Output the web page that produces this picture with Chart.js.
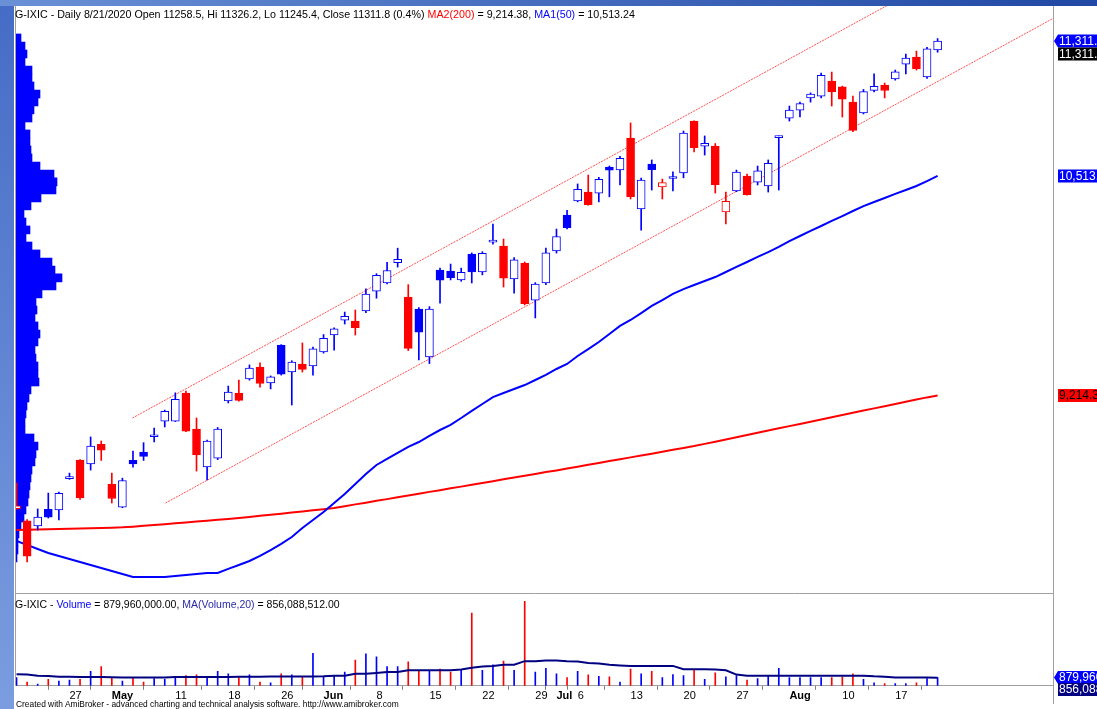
<!DOCTYPE html>
<html>
<head>
<meta charset="utf-8">
<title>G-IXIC Daily</title>
<script src="https://cdn.jsdelivr.net/npm/chart.js@4.4.1/dist/chart.umd.min.js"></script>
<style>
body { margin: 0; background: #fff; }
#wrap { position: relative; width: 1097px; height: 709px; overflow: hidden; background: #fff; font-family: "Liberation Sans", Arial, sans-serif; }
#leftbar { position: absolute; left: 0; top: 0; width: 14px; height: 709px; background: linear-gradient(#456cc6, #7b9de0); }
#topbar { position: absolute; left: 0; top: 0; width: 1097px; height: 6px; background: linear-gradient(90deg, #6a90d6, #2048a4); }
canvas { position: absolute; left: 0; }
#price { top: 0; width: 1097px; height: 592px; }
#vol { top: 592px; width: 1097px; height: 117px; }
.ttl { position: absolute; white-space: nowrap; color: #000; }
#foot { position: absolute; left: 16px; top: 699px; font-size: 8.4px; color: #000; white-space: nowrap; }
</style>
</head>
<body>
<div id="wrap">
  <div id="leftbar"></div>
  <div id="topbar"></div>
  <canvas id="price" width="1097" height="592"></canvas>
  <canvas id="vol" width="1097" height="117"></canvas>
  <div id="t1" class="ttl" style="left:15px;top:8px;font-size:10.7px"></div>
  <div id="t2" class="ttl" style="left:15px;top:598px;font-size:10.5px"></div>
  <div id="foot">Created with AmiBroker - advanced charting and technical analysis software. http://www.amibroker.com</div>
</div>
<script>
// trading days Apr 20 - Aug 21 2020
var days = ["Apr 20","Apr 21","Apr 22","Apr 23","Apr 24","Apr 27","Apr 28","Apr 29","Apr 30",
  "May 1","May 4","May 5","May 6","May 7","May 8","May 11","May 12","May 13","May 14","May 15",
  "May 18","May 19","May 20","May 21","May 22","May 26","May 27","May 28","May 29",
  "Jun 1","Jun 2","Jun 3","Jun 4","Jun 5","Jun 8","Jun 9","Jun 10","Jun 11","Jun 12","Jun 15",
  "Jun 16","Jun 17","Jun 18","Jun 19","Jun 22","Jun 23","Jun 24","Jun 25","Jun 26","Jun 29","Jun 30",
  "Jul 1","Jul 2","Jul 6","Jul 7","Jul 8","Jul 9","Jul 10","Jul 13","Jul 14","Jul 15","Jul 16",
  "Jul 17","Jul 20","Jul 21","Jul 22","Jul 23","Jul 24","Jul 27","Jul 28","Jul 29","Jul 30","Jul 31",
  "Aug 3","Aug 4","Aug 5","Aug 6","Aug 7","Aug 10","Aug 11","Aug 12","Aug 13","Aug 14",
  "Aug 17","Aug 18","Aug 19","Aug 20","Aug 21"];

var opens = [8545,8472,8442,8540,8537,8722,8832,8810,8925,8690,
  8554,8830,8880,8970,9063,9063,9229,9016,8791,8844,
  9182,9229,9312,9383,9288,9513,9353,9400,9389,9472,
  9572,9660,9655,9714,9832,9880,10000,9797,9726,9442,
  9957,9950,9898,10051,9945,10122,10099,9904,9998,9779,
  9880,10069,10282,10365,10418,10412,10566,10549,10738,10318,
  10584,10448,10498,10531,10838,10690,10690,10300,10424,10513,
  10477,10454,10740,10855,10903,10975,10986,11075,11040,10951,
  10886,11020,11051,11087,11175,11217,11099,11258.5];
var highs = [8696,8480,8543,8637,8643,8755,8835,8969,8945,8755,
  8725,8885,8935,9022,9128,9230,9240,9081,8950,9025,
  9270,9305,9395,9407,9330,9515,9420,9525,9500,9575,
  9615,9708,9720,9845,9935,10002,10086,9870,9735,9740,
  9968,9992,9968,10058,10065,10229,10140,10030,10004,9882,
  10087,10199,10310,10466,10519,10505,10572,10630,10827,10500,
  10608,10495,10537,10779,10840,10750,10705,10418,10548,10525,
  10572,10608,10750,10927,10950,11005,11122,11128,11045,10986,
  11025,11117,11063,11140,11235,11252,11275,11326.2];
var lows = [8540,8229,8418,8489,8478,8718,8600,8773,8830,8578,
  8550,8790,8830,8940,9028,9060,9000,8767,8714,8835,
  9170,9180,9305,9264,9253,9335,9158,9353,9335,9465,
  9483,9637,9572,9705,9790,9875,9974,9480,9424,9403,
  9761,9898,9890,9880,9928,10110,9856,9820,9750,9673,
  9870,10057,10200,10360,10340,10360,10390,10460,10377,10193,
  10430,10377,10424,10502,10655,10637,10412,10229,10420,10400,
  10460,10418,10430,10838,10862,10950,10975,10927,10862,10775,
  10880,11010,10975,11080,11117,11140,11090,11245.4];
var closes = [8561,8263,8495,8495,8635,8730,8608,8915,8890,8605,
  8711,8809,8854,8980,9121,9192,9003,8863,8944,9015,
  9235,9185,9376,9285,9325,9340,9412,9369,9490,9552,
  9608,9683,9616,9814,9925,9954,10020,9493,9589,9726,
  9896,9911,9943,9946,10056,10131,9909,10017,9757,9874,
  10059,10155,10208,10434,10344,10493,10548,10617,10391,10489,
  10550,10474,10503,10767,10680,10706,10461,10363,10536,10402,
  10543,10588,10745,10903,10941,10998,11108,11011,10968,10783,
  11012,11043,11019,11130,11211,11146,11265,11311.8];
var prevClose0 = 8650; // close before Apr 20

var ma50 = [8353,8330,8306,8282,8265,8247,8229,8211,8194,8176,
  8158,8140,8140,8140,8140,8146,8152,8158,8164,8164,
  8188,8211,8235,8265,8300,8336,8377,8430,8478,8525,
  8578,8631,8691,8750,8803,8839,8874,8910,8939,8975,
  9010,9040,9081,9123,9164,9205,9229,9253,9276,9306,
  9336,9371,9401,9448,9489,9531,9578,9626,9661,9702,
  9744,9779,9815,9844,9868,9892,9915,9945,9975,10004,
  10034,10063,10093,10128,10158,10188,10217,10247,10276,10306,
  10335,10359,10383,10407,10430,10454,10483,10513.24];
var ma200 = [8418,8420,8421,8423,8424,8426,8427,8429,8430,8432,
  8434,8438,8443,8448,8453,8458,8463,8468,8473,8479,
  8484,8489,8495,8502,8508,8515,8522,8528,8535,8541,
  8548,8559,8570,8580,8591,8601,8612,8622,8633,8644,
  8654,8665,8675,8686,8697,8707,8718,8729,8739,8750,
  8761,8771,8782,8793,8804,8815,8826,8837,8848,8859,
  8870,8881,8893,8904,8915,8928,8941,8954,8967,8980,
  8994,9007,9020,9033,9046,9059,9072,9086,9099,9112,
  9125,9138,9151,9164,9177,9190,9203,9214.38];

// volume in millions of shares
var volumes = [880,383,191,689,497,612,689,1530,2028,880,
  497,803,383,765,689,842,1071,1148,880,1530,
  1263,880,1148,383,306,1263,1148,957,3443,957,
  1071,1454,2716,3367,3061,2028,2028,2525,1530,1645,
  1760,1454,1645,7690,1645,2219,2602,1645,8915,1454,
  1836,1263,880,1530,1148,995,957,383,1760,1263,
  1530,880,1186,1071,1645,689,1377,957,1071,612,
  765,1071,1836,880,880,880,880,880,957,1263,
  689,306,230,230,230,306,765,879.96];
var volMA20 = [1224,1200,1071,1040,957,957,940,920,920,900,
  880,880,880,880,880,918,918,918,918,930,
  940,957,957,957,970,980,995,995,995,1000,
  1071,1071,1263,1263,1350,1454,1454,1645,1645,1645,
  1645,1645,1722,1900,2028,2100,2219,2219,2602,2602,
  2678,2678,2602,2560,2410,2350,2219,2150,2104,2104,
  2104,2104,2104,1760,1760,1760,1720,1645,1186,1071,
  1071,1071,1071,1071,1071,1071,1071,1071,1071,1071,
  1071,1000,957,880,880,880,870,856.088512];

// volume at price (relative units)
var profilePrice = [11330,11282,11235,11188,11140,11093,11046,10998,10951,10904,
  10856,10809,10762,10714,10667,10620,10572,10525,10478,10430,
  10383,10336,10288,10241,10194,10146,10099,10052,10004,9957,
  9910,9862,9815,9768,9720,9673,9626,9578,9531,9483,
  9436,9389,9341,9294,9247,9199,9152,9105,9057,9010,
  8963,8915,8868,8821,8773,8726,8679,8631,8584,8537,
  8489,8442,8395,8347,8300,8253];
var profileVol = [5,9,11,9,16,16,18,24,22,18,
  16,9,14,14,15,16,24,38,41,40,
  25,15,8,10,14,10,16,24,36,39,
  46,40,26,20,21,19,22,24,22,19,
  20,22,22,23,15,13,11,10,9,9,
  18,22,20,19,16,15,14,13,12,10,
  8,5,3,2,2,1];

// trend channel (bar index, price)
var channelUpper = [{x: 10.95, y: 9081}, {x: 90, y: 11788}];
var channelLower = [{x: 14.07, y: 8578}, {x: 97.9, y: 11445}];

var tickIdx = [5, 9, 15, 20, 25, 29, 34, 39, 44, 49, 51, 53, 58, 63, 68, 73, 78, 83];
var tickText = ["27", "May", "11", "18", "26", "Jun", "8", "15", "22", "29", "Jul", "6", "13", "20", "27", "Aug", "10", "17"];

var FONT = '"Liberation Sans", Arial, sans-serif';
var BLUE = "#0000ff", RED = "#ff0000";
var xMin = -0.05, xMax = 97.9;
var priceMin = 8051.5, priceMax = 11518.9;

var n = closes.length;
var bodyData = [], wickData = [], candleColor = [], bodyFill = [];
for (var i = 0; i < n; i++) {
  var prev = i === 0 ? prevClose0 : closes[i - 1];
  var col = closes[i] >= prev ? BLUE : RED;
  candleColor.push(col);
  bodyFill.push(closes[i] < opens[i] ? col : "#ffffff");
  bodyData.push({x: i, y: [opens[i], closes[i]]});
  wickData.push({x: i, y: [lows[i], highs[i]]});
}
var ma50Data = ma50.map(function (v, i) { return {x: i, y: v}; });
var ma200Data = ma200.map(function (v, i) { return {x: i, y: v}; });
var profData = profileVol.map(function (v, i) { return {x: v, y: profilePrice[i]}; });

function fmt(v, d) {
  return v.toLocaleString("en-US", {minimumFractionDigits: d, maximumFractionDigits: d});
}

function drawTag(ctx, y, text, bg, fg, arrow) {
  var x0 = 1058, h = 13;
  ctx.save();
  ctx.fillStyle = bg;
  ctx.beginPath();
  if (arrow) {
    ctx.moveTo(1054, y);
    ctx.lineTo(x0, y - h / 2);
  } else {
    ctx.moveTo(x0, y - h / 2);
  }
  ctx.lineTo(1097, y - h / 2);
  ctx.lineTo(1097, y + h / 2);
  ctx.lineTo(x0, y + h / 2);
  ctx.closePath();
  ctx.fill();
  ctx.fillStyle = fg;
  ctx.font = "12px " + FONT;
  ctx.textBaseline = "middle";
  ctx.textAlign = "left";
  ctx.fillText(text, x0 + 1, y + 0.5);
  ctx.restore();
}

//rammer og etiketter for prisruten
var priceDeco = {
  id: "priceDeco",
  afterDraw: function (chart) {
    var ctx = chart.ctx, a = chart.chartArea, ys = chart.scales.y;
    ctx.save();
    ctx.strokeStyle = "#a0a0a0";
    ctx.lineWidth = 1;
    ctx.beginPath();
    ctx.moveTo(15.5, a.top); ctx.lineTo(15.5, a.bottom);
    ctx.moveTo(1053.5, a.top); ctx.lineTo(1053.5, a.bottom);
    ctx.stroke();
    ctx.restore();
    var yc = ys.getPixelForValue(closes[n - 1]);
    drawTag(ctx, yc, fmt(closes[n - 1], 1), BLUE, "#fff", true);
    drawTag(ctx, yc + 13, fmt(closes[n - 1], 1), "#000", "#fff", false);
    drawTag(ctx, ys.getPixelForValue(ma50[n - 1]), fmt(ma50[n - 1], 2), BLUE, "#fff", false);
    drawTag(ctx, ys.getPixelForValue(ma200[n - 1]), fmt(ma200[n - 1], 2), RED, "#000", false);
  }
};

var volDeco = {
  id: "volDeco",
  afterDraw: function (chart) {
    var ctx = chart.ctx, a = chart.chartArea, ys = chart.scales.y;
    ctx.save();
    ctx.strokeStyle = "#a0a0a0";
    ctx.lineWidth = 1;
    ctx.beginPath();
    ctx.moveTo(15, 1.5); ctx.lineTo(1054, 1.5);
    ctx.moveTo(15.5, 0); ctx.lineTo(15.5, a.bottom);
    ctx.moveTo(1053.5, 0); ctx.lineTo(1053.5, 112);
    ctx.stroke();
    ctx.restore();
    var y1 = ys.getPixelForValue(volumes[n - 1]);
    var y2 = Math.max(ys.getPixelForValue(volMA20[n - 1]), y1 + 12);
    drawTag(ctx, y1, fmt(volumes[n - 1] * 1e6, 0), BLUE, "#fff", true);
    drawTag(ctx, y2, fmt(volMA20[n - 1] * 1e6, 0), "#000080", "#fff", false);
  }
};

Chart.defaults.font.family = FONT;
Chart.defaults.animation = false;

new Chart(document.getElementById("price"), {
  type: "bar",
  data: {
    datasets: [
      {
        type: "bar", label: "Volume at price", data: profData, indexAxis: "y",
        xAxisID: "xp", yAxisID: "yp", backgroundColor: BLUE, borderWidth: 0,
        barPercentage: 1, categoryPercentage: 1, grouped: false, order: 10
      },
      {
        type: "line", label: "Upper channel", data: channelUpper, borderColor: "#ff5050",
        borderWidth: 1, borderDash: [2, 1], pointRadius: 0, order: 9
      },
      {
        type: "line", label: "Lower channel", data: channelLower, borderColor: "#ff5050",
        borderWidth: 1, borderDash: [2, 1], pointRadius: 0, order: 9
      },
      {
        type: "line", label: "MA2(200)", data: ma200Data, borderColor: RED,
        borderWidth: 2, pointRadius: 0, order: 8
      },
      {
        type: "line", label: "MA1(50)", data: ma50Data, borderColor: BLUE,
        borderWidth: 2, pointRadius: 0, order: 7
      },
      {
        type: "bar", label: "Range", data: wickData, backgroundColor: candleColor,
        borderWidth: 0, barThickness: 1, grouped: false, order: 6
      },
      {
        type: "bar", label: "Price", data: bodyData, backgroundColor: bodyFill,
        borderColor: candleColor, borderWidth: 1, borderSkipped: false,
        barThickness: 8, minBarLength: 2, grouped: false, order: 5
      }
    ]
  },
  options: {
    responsive: false,
    layout: {padding: {left: 16, right: 44, top: 6, bottom: 0}},
    plugins: {legend: {display: false}, tooltip: {enabled: false}},
    scales: {
      x: {type: "linear", display: false, min: xMin, max: xMax, offset: false},
      y: {type: "linear", display: false, min: priceMin, max: priceMax, offset: false},
      xp: {type: "linear", display: false, min: 0, max: 1037, offset: false},
      yp: {type: "linear", display: false, min: priceMin, max: priceMax, offset: false}
    }
  },
  plugins: [priceDeco]
});

var volColor = volumes.map(function (v, i) { return closes[i] < opens[i] ? RED : BLUE; });

new Chart(document.getElementById("vol"), {
  type: "bar",
  data: {
    datasets: [
      {
        type: "line", label: "MA(Volume,20)", data: volMA20.map(function (v, i) { return {x: i, y: v}; }),
        borderColor: "#000080", borderWidth: 2, pointRadius: 0, order: 1
      },
      {
        type: "bar", label: "Volume", data: volumes.map(function (v, i) { return {x: i, y: v}; }),
        backgroundColor: volColor, borderWidth: 0, barThickness: 1, order: 2
      }
    ]
  },
  options: {
    responsive: false,
    layout: {padding: {left: 16, right: 44, top: 2, bottom: 6}},
    plugins: {legend: {display: false}, tooltip: {enabled: false}},
    scales: {
      x: {
        type: "linear", min: xMin, max: xMax, offset: false,
        afterBuildTicks: function (axis) {
          axis.ticks = tickIdx.map(function (v) { return {value: v}; });
        },
        grid: {drawOnChartArea: false, drawTicks: true, tickLength: 4, color: "#808080"},
        border: {display: true, color: "#a0a0a0"},
        ticks: {
          align: "start", padding: 0, autoSkip: false, maxRotation: 0, color: "#000",
          callback: function (value, index) { return tickText[index]; },
          font: function (c) {
            var t = tickText[c.index] || "";
            return {size: 11, weight: /^[A-Z]/.test(t) ? "bold" : "normal", family: FONT};
          }
        }
      },
      y: {type: "linear", display: false, min: 0, max: 9700}
    }
  },
  plugins: [volDeco]
});

document.getElementById("t1").innerHTML =
  "G-IXIC - Daily 8/21/2020 Open " + opens[n - 1] + ", Hi " + highs[n - 1] + ", Lo " + lows[n - 1] +
  ", Close " + closes[n - 1] + " (" + ((closes[n - 1] / closes[n - 2] - 1) * 100).toFixed(1) + "%) " +
  '<span style="color:#f00">MA2(200)</span> = ' + fmt(ma200[n - 1], 2) +
  ', <span style="color:#00f">MA1(50)</span> = ' + fmt(ma50[n - 1], 2);
document.getElementById("t2").innerHTML =
  'G-IXIC - <span style="color:#00f">Volume</span> = ' + fmt(volumes[n - 1] * 1e6, 2) +
  ', <span style="color:#2a2aa8">MA(Volume,20)</span> = ' + fmt(volMA20[n - 1] * 1e6, 2);
</script>
</body>
</html>
